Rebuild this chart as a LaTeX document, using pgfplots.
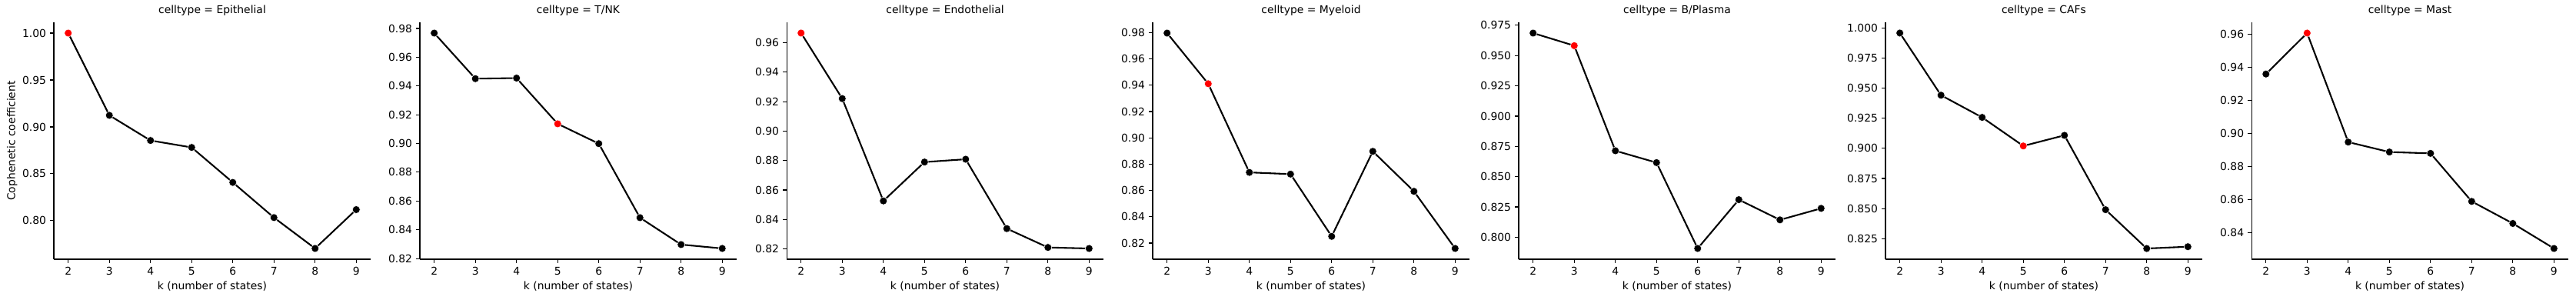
\documentclass[border=0pt]{standalone}
\usepackage{fontspec}
\setmainfont{DejaVu Sans}
\usepackage{pgfplots}
\pgfplotsset{compat=1.18}
\definecolor{hl}{RGB}{255,0,0}
\pgfplotsset{
 panel/.style={
  scale only axis, width=296.64pt, height=221.76pt, anchor=south west,
  axis lines*=left, axis line style={line width=0.8pt, black, -},
  tick align=outside, major tick length=3.5pt, tick style={line width=0.8pt, black},
  xmin=1.65, xmax=9.35, xtick={2,3,4,5,6,7,8,9},
  clip=false,
  /pgf/number format/assume math mode=true,
  ticklabel style={font=\fontsize{10}{12}\selectfont},
  xticklabel style={anchor=north, inner sep=0pt, yshift=-3.5pt},
  yticklabel style={anchor=east, inner sep=0pt, xshift=-3.5pt,
    /pgf/number format/fixed, /pgf/number format/fixed zerofill, /pgf/number format/precision=2},
  scaled y ticks=false,
  xlabel={k (number of states)},
  every axis x label/.style={at={(axis description cs:0.5,0)}, anchor=base, yshift=-28.5pt, font=\fontsize{10}{12}\selectfont},
  every axis y label/.style={at={(axis description cs:-0.1318,0.5)}, rotate=90, anchor=center, font=\fontsize{10}{12}\selectfont},
  every axis title/.style={at={(axis description cs:0.5,1)}, anchor=base, yshift=8.5pt, inner sep=0pt, font=\fontsize{10}{12}\selectfont},
 },
 blk/.style={only marks, mark=*, mark size=3.6pt, mark options={fill=black, draw=white, line width=0.4pt}},
 red/.style={only marks, mark=*, mark size=3.6pt, mark options={fill=hl, draw=white, line width=0.4pt}},
 ln/.style={black, line width=1.5pt, no marks},
}
\begin{document}
\begin{tikzpicture}
\useasboundingbox (0,0) rectangle (2412pt,280.8pt);
% Epithelial
\begin{axis}[panel, at={(50.4pt,38.16pt)}, ymin=0.7589, ymax=1.0115,
  ytick={0.80,0.85,0.90,0.95,1.00}, title={celltype = Epithelial}, ylabel={Cophenetic coefficient}]
\addplot[blk] coordinates {(3,0.9123) (4,0.8855) (5,0.8781) (6,0.8408) (7,0.8033) (8,0.7704) (9,0.8118)};
\addplot[red] coordinates {(2,1.000)};
\addplot[ln] coordinates {(2,1.000) (3,0.9123) (4,0.8855) (5,0.8781) (6,0.8408) (7,0.8033) (8,0.7704) (9,0.8118)};
\end{axis}
% T/NK
\begin{axis}[panel, at={(393.1pt,38.16pt)}, ymin=0.8195, ymax=0.9843,
  ytick={0.82,0.84,0.86,0.88,0.90,0.92,0.94,0.96,0.98}, title={celltype = T/NK}]
\addplot[blk] coordinates {(2,0.9768) (3,0.9451) (4,0.9455) (6,0.8999) (7,0.8484) (8,0.8297) (9,0.8270)};
\addplot[red] coordinates {(5,0.9137)};
\addplot[ln] coordinates {(2,0.9768) (3,0.9451) (4,0.9455) (5,0.9137) (6,0.8999) (7,0.8484) (8,0.8297) (9,0.8270)};
\end{axis}
% Endothelial
\begin{axis}[panel, at={(736.6pt,38.16pt)}, ymin=0.8130, ymax=0.9739,
  ytick={0.82,0.84,0.86,0.88,0.90,0.92,0.94,0.96}, title={celltype = Endothelial}]
\addplot[blk] coordinates {(3,0.9221) (4,0.8526) (5,0.8790) (6,0.8809) (7,0.8338) (8,0.8210) (9,0.8203)};
\addplot[red] coordinates {(2,0.9666)};
\addplot[ln] coordinates {(2,0.9666) (3,0.9221) (4,0.8526) (5,0.8790) (6,0.8809) (7,0.8338) (8,0.8210) (9,0.8203)};
\end{axis}
% Myeloid
\begin{axis}[panel, at={(1079.3pt,38.16pt)}, ymin=0.8077, ymax=0.9878,
  ytick={0.82,0.84,0.86,0.88,0.90,0.92,0.94,0.96,0.98}, title={celltype = Myeloid}]
\addplot[blk] coordinates {(2,0.9796) (4,0.8737) (5,0.8724) (6,0.8251) (7,0.8897) (8,0.8593) (9,0.8159)};
\addplot[red] coordinates {(3,0.9411)};
\addplot[ln] coordinates {(2,0.9796) (3,0.9411) (4,0.8737) (5,0.8724) (6,0.8251) (7,0.8897) (8,0.8593) (9,0.8159)};
\end{axis}
% B/Plasma
\begin{axis}[panel, at={(1422.0pt,38.16pt)}, ymin=0.7818, ymax=0.9775,
  ytick={0.800,0.825,0.850,0.875,0.900,0.925,0.950,0.975}, title={celltype = B/Plasma},
  yticklabel style={/pgf/number format/precision=3}]
\addplot[blk] coordinates {(2,0.9686) (4,0.8714) (5,0.8616) (6,0.7907) (7,0.8310) (8,0.8143) (9,0.8238)};
\addplot[red] coordinates {(3,0.9582)};
\addplot[ln] coordinates {(2,0.9686) (3,0.9582) (4,0.8714) (5,0.8616) (6,0.7907) (7,0.8310) (8,0.8143) (9,0.8238)};
\end{axis}
% CAFs
\begin{axis}[panel, at={(1765.4pt,38.16pt)}, ymin=0.8080, ymax=1.0046,
  ytick={0.825,0.850,0.875,0.900,0.925,0.950,0.975,1.000}, title={celltype = CAFs},
  yticklabel style={/pgf/number format/precision=3}]
\addplot[blk] coordinates {(2,0.9957) (3,0.9441) (4,0.9257) (6,0.9108) (7,0.8491) (8,0.8169) (9,0.8184)};
\addplot[red] coordinates {(5,0.9020)};
\addplot[ln] coordinates {(2,0.9957) (3,0.9441) (4,0.9257) (5,0.9020) (6,0.9108) (7,0.8491) (8,0.8169) (9,0.8184)};
\end{axis}
% Mast
\begin{axis}[panel, at={(2108.2pt,38.16pt)}, ymin=0.8240, ymax=0.9670,
  ytick={0.84,0.86,0.88,0.90,0.92,0.94,0.96}, title={celltype = Mast}]
\addplot[blk] coordinates {(2,0.9358) (4,0.8947) (5,0.8887) (6,0.8879) (7,0.8589) (8,0.8456) (9,0.8305)};
\addplot[red] coordinates {(3,0.9605)};
\addplot[ln] coordinates {(2,0.9358) (3,0.9605) (4,0.8947) (5,0.8887) (6,0.8879) (7,0.8589) (8,0.8456) (9,0.8305)};
\end{axis}
\end{tikzpicture}
\end{document}
